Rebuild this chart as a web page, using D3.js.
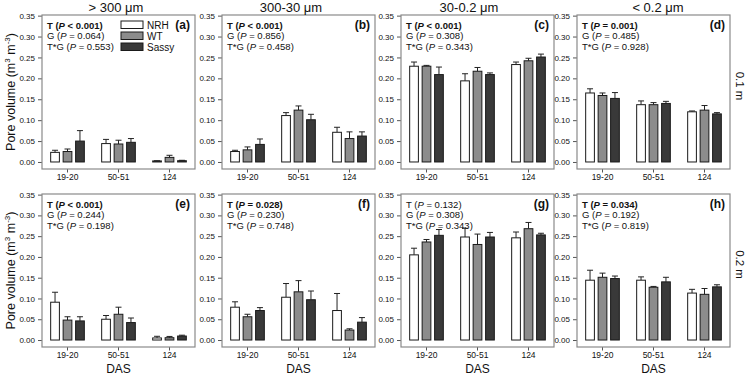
<!DOCTYPE html>
<html><head><meta charset="utf-8">
<script src="https://cdn.jsdelivr.net/npm/d3@7"></script>
<style>
body{margin:0;background:#fff;}
svg{display:block;font-family:"Liberation Sans",Arial,sans-serif;}
</style></head>
<body><svg id="chart" width="746" height="375"></svg>
<script>
// ---- data ----
const categories = ["19-20", "50-51", "124"];
const genotypes = ["NRH", "WT", "Sassy"];
const panelLabels = ["(a)", "(b)", "(c)", "(d)", "(e)", "(f)", "(g)", "(h)"];
const columnTitles = ["> 300 \u03bcm", "300-30 \u03bcm", "30-0.2 \u03bcm", "< 0.2 \u03bcm"];
const depthLabels = ["0.1 m", "0.2 m"];
const yTickValues = [0, 0.05, 0.10, 0.15, 0.20, 0.25, 0.30, 0.35];

// means: rows = DAS category, cols = NRH, WT, Sassy
const meanA = [[0.023, 0.025, 0.050], [0.044, 0.043, 0.047], [0.0025, 0.011, 0.003]];
const errA  = [[0.005, 0.006, 0.025], [0.010, 0.009, 0.009], [0.0005, 0.005, 0.001]];
const meanB = [[0.025, 0.029, 0.042], [0.111, 0.124, 0.101], [0.071, 0.056, 0.062]];
const errB  = [[0.003, 0.007, 0.013], [0.007, 0.010, 0.013], [0.012, 0.016, 0.010]];
const meanC = [[0.229, 0.229, 0.209], [0.194, 0.217, 0.209], [0.233, 0.242, 0.251]];
const errC  = [[0.010, 0.002, 0.018], [0.017, 0.009, 0.004], [0.006, 0.006, 0.007]];
const meanD = [[0.165, 0.159, 0.152], [0.137, 0.137, 0.140], [0.120, 0.124, 0.115]];
const errD  = [[0.010, 0.006, 0.014], [0.009, 0.005, 0.005], [0.002, 0.011, 0.003]];
const meanE = [[0.091, 0.048, 0.046], [0.050, 0.062, 0.042], [0.005, 0.0056, 0.0096]];
const errE  = [[0.024, 0.008, 0.010], [0.009, 0.017, 0.011], [0.004, 0.003, 0.002]];
const meanF = [[0.079, 0.056, 0.071], [0.103, 0.116, 0.097], [0.071, 0.024, 0.043]];
const errF  = [[0.013, 0.006, 0.007], [0.033, 0.027, 0.021], [0.041, 0.003, 0.011]];
const meanG = [[0.205, 0.236, 0.252], [0.248, 0.230, 0.248], [0.246, 0.268, 0.253]];
const errG  = [[0.016, 0.006, 0.014], [0.021, 0.025, 0.011], [0.014, 0.015, 0.004]];
const meanH = [[0.144, 0.151, 0.148], [0.144, 0.127, 0.140], [0.113, 0.110, 0.128]];
const errH  = [[0.024, 0.010, 0.006], [0.008, 0.002, 0.011], [0.009, 0.014, 0.005]];

const statT  = ["< 0.001", "< 0.001", "< 0.001", "= 0.001", "< 0.001", "= 0.028", "= 0.132", "= 0.034"];
const statG  = ["= 0.064", "= 0.856", "= 0.308", "= 0.485", "= 0.244", "= 0.230", "= 0.308", "= 0.192"];
const statTG = ["= 0.553", "= 0.458", "= 0.343", "= 0.928", "= 0.198", "= 0.748", "= 0.343", "= 0.819"];
const statTBold = [true, true, true, true, true, true, false, true];

const means = [meanA, meanB, meanC, meanD, meanE, meanF, meanG, meanH];
const errs = [errA, errB, errC, errD, errE, errF, errG, errH];

// ---- layout ----
const colLeft = [42, 222, 401, 577];
const panelW = 153;
const rowTop = [15, 194];
const rowBottom = [169, 347];
const titleX = [116, 291, 469, 658];
const fills = {NRH: "#ffffff", WT: "#8c8c8c", Sassy: "#393939"};
const frameColor = "#8a8a8a";

const svg = d3.select("#chart");

for (let p = 0; p < 8; p++) {
  const r = Math.floor(p / 4), c = p % 4;
  const x0 = colLeft[c], y0 = rowTop[r], h = rowBottom[r] - rowTop[r];
  const g = svg.append("g").attr("transform", `translate(${x0},${y0})`);

  const y = d3.scaleLinear().domain([-0.0168, 0.3515]).range([h, 0]);
  const x = d3.scaleBand().domain(categories).range([0, panelW]).paddingInner(0.34).paddingOuter(0.17);
  const xs = d3.scaleBand().domain(genotypes).range([0, x.bandwidth()]).paddingInner(0.3).paddingOuter(0);

  const data = [];
  categories.forEach((cat, i) => genotypes.forEach((gen, j) => {
    data.push({cat, gen, v: means[p][i][j], e: errs[p][i][j]});
  }));

  // axes
  const ya = g.append("g").call(d3.axisLeft(y).tickValues(yTickValues).tickFormat(d3.format(".2f")).tickSize(4).tickPadding(3));
  ya.select(".domain").remove();
  ya.selectAll("line").attr("stroke", "#555");
  ya.selectAll("text").attr("font-size", 8).attr("fill", "#111").attr("font-family", "Liberation Sans, Arial, sans-serif");

  const xa = g.append("g").attr("transform", `translate(0,${h})`).call(d3.axisBottom(x).tickSize(3.5).tickPadding(1.5));
  xa.select(".domain").remove();
  xa.selectAll("line").attr("stroke", "#555");
  xa.selectAll("text").attr("font-size", 8.5).attr("fill", "#111").attr("font-family", "Liberation Sans, Arial, sans-serif");

  // error bars
  const eb = g.append("g").selectAll("g").data(data).join("g");
  eb.append("line")
    .attr("x1", d => x(d.cat) + xs(d.gen) + xs.bandwidth() / 2)
    .attr("x2", d => x(d.cat) + xs(d.gen) + xs.bandwidth() / 2)
    .attr("y1", d => y(d.v)).attr("y2", d => y(d.v + d.e))
    .attr("stroke", "#222").attr("stroke-width", 1);
  eb.append("line")
    .attr("x1", d => x(d.cat) + xs(d.gen) + xs.bandwidth() / 2 - 3)
    .attr("x2", d => x(d.cat) + xs(d.gen) + xs.bandwidth() / 2 + 3)
    .attr("y1", d => y(d.v + d.e)).attr("y2", d => y(d.v + d.e))
    .attr("stroke", "#222").attr("stroke-width", 1);

  // bars
  g.append("g").selectAll("rect").data(data).join("rect")
    .attr("x", d => x(d.cat) + xs(d.gen))
    .attr("width", xs.bandwidth())
    .attr("y", d => y(d.v))
    .attr("height", d => y(0) - y(d.v))
    .attr("fill", d => fills[d.gen])
    .attr("stroke", "#1a1a1a").attr("stroke-width", 1);

  // frame
  g.append("rect").attr("x", 0).attr("y", 0).attr("width", panelW).attr("height", h)
    .attr("fill", "none").attr("stroke", frameColor).attr("stroke-width", 1.2);

  // stats text
  const lines = [["T", statT[p], statTBold[p]], ["G", statG[p], false], ["T*G", statTG[p], false]];
  lines.forEach((ln, k) => {
    const t = g.append("text").attr("x", 5).attr("y", 13.5 + k * 10.5)
      .attr("font-size", 9.5).attr("fill", "#111")
      .attr("font-weight", ln[2] ? "bold" : "normal");
    t.append("tspan").text(ln[0] + " (");
    t.append("tspan").attr("font-style", "italic").text("P");
    t.append("tspan").text(" " + ln[1] + ")");
  });

  // panel label
  g.append("text").attr("x", panelW - 5).attr("y", 14).attr("text-anchor", "end")
    .attr("font-size", 12).attr("font-weight", "bold").attr("fill", "#111").text(panelLabels[p]);

  // legend in panel (a)
  if (p === 0) {
    genotypes.forEach((gen, k) => {
      g.append("rect").attr("x", 79).attr("y", 6 + k * 11).attr("width", 22).attr("height", 7.5)
        .attr("fill", fills[gen]).attr("stroke", "#1a1a1a").attr("stroke-width", 1);
      g.append("text").attr("x", 105).attr("y", 13.5 + k * 11).attr("font-size", 10)
        .attr("fill", "#111").text(gen);
    });
  }

  // DAS label bottom row
  if (r === 1) {
    svg.append("text").attr("x", x0 + panelW / 2).attr("y", 373).attr("text-anchor", "middle")
      .attr("font-size", 12).attr("fill", "#111").text("DAS");
  }
}

// column titles
columnTitles.forEach((t, c) => {
  svg.append("text").attr("x", titleX[c]).attr("y", 12).attr("text-anchor", "middle")
    .attr("font-size", 13).attr("fill", "#111").text(t);
});

// depth labels (right side)
depthLabels.forEach((t, r) => {
  const cy = (rowTop[r] + rowBottom[r]) / 2 - 6;
  svg.append("text").attr("transform", `translate(736,${cy}) rotate(90)`)
    .attr("text-anchor", "middle").attr("font-size", 11.5).attr("fill", "#111").text(t);
});

// y-axis titles
rowTop.forEach((t, r) => {
  const cy = (rowTop[r] + rowBottom[r]) / 2;
  const tx = svg.append("text").attr("transform", `translate(15,${cy}) rotate(-90)`)
    .attr("text-anchor", "middle").attr("font-size", 12.5).attr("fill", "#111");
  tx.append("tspan").text("Pore volume (m");
  tx.append("tspan").attr("font-size", 8).attr("dy", -5).text("3");
  tx.append("tspan").attr("dy", 5).text(" m");
  tx.append("tspan").attr("font-size", 8).attr("dy", -5).text("-3");
  tx.append("tspan").attr("dy", 5).text(")");
});
</script></body></html>
